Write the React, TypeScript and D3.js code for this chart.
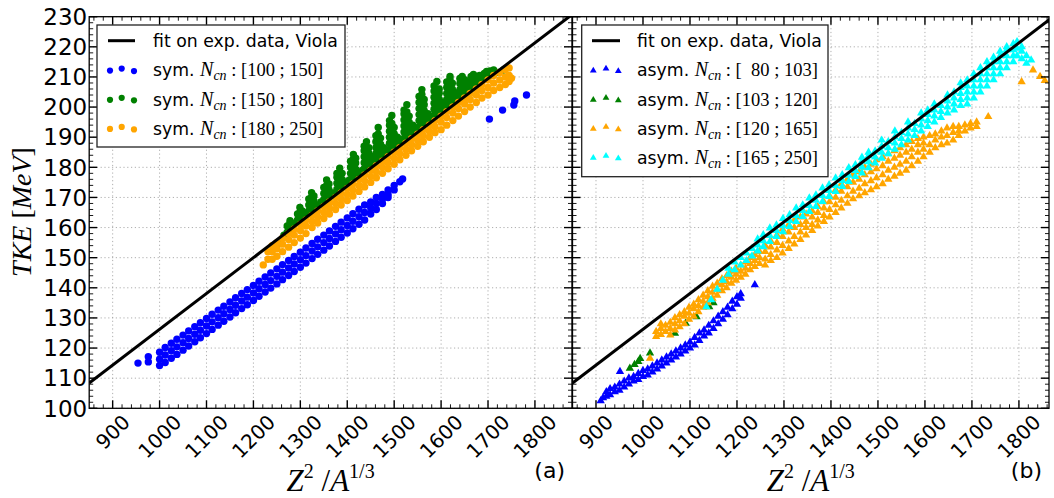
import React from 'react';
import * as d3 from 'd3';

const W = 1054;
const H = 498;

// ---------- ticks / axes ----------
const xTickValues = [900, 1000, 1100, 1200, 1300, 1400, 1500, 1600, 1700, 1800];
const yTickValues = [100, 110, 120, 130, 140, 150, 160, 170, 180, 190, 200, 210, 220, 230];
const yDomain = [100, 230];
const xDomainA = [850, 1879];
const xDomainB = [850, 1864];

// Viola fit line (two end points)
const fitLine = [[850, 108.4], [1900, 233.2]];

// ---------- data rows: [x, y1, y2, ...] ----------
const symBlue = [
  [954, 115], [976, 115.4, 117.1], [1000, 114.2, 116.3, 118.6], [1012, 115.2, 117.7, 120.2],
  [1025, 116.6, 119.1, 121.6], [1037, 117.9, 120.4, 122.9], [1050, 119.3, 121.8, 124.3],
  [1062, 120.7, 123.2, 125.7], [1075, 122.1, 124.6, 127.1], [1087, 123.4, 125.9, 128.4],
  [1100, 124.8, 127.3, 129.8], [1112, 126.2, 128.7, 131.2], [1125, 127.6, 130.1, 132.6],
  [1137, 128.9, 131.4, 133.9], [1150, 130.3, 132.8, 135.3], [1162, 131.7, 134.2, 136.7],
  [1175, 133.1, 135.6, 138.1], [1187, 134.4, 136.9, 139.4], [1200, 135.8, 138.3, 140.8],
  [1212, 137.2, 139.7, 142.2], [1225, 138.6, 141.1, 143.6], [1237, 139.9, 142.4, 144.9],
  [1250, 141.3, 143.8, 146.3], [1262, 142.7, 145.2, 147.7], [1275, 144.1, 146.6, 149.1],
  [1287, 145.4, 147.9, 150.4], [1300, 146.8, 149.3, 151.8], [1312, 148.2, 150.7, 153.2],
  [1325, 149.7, 152.2, 154.7], [1337, 151.1, 153.6, 156.1], [1350, 152.5, 155, 157.5],
  [1362, 153.9, 156.4, 158.9], [1375, 155.4, 157.9, 160.4], [1387, 156.8, 159.3, 161.8],
  [1400, 158.2, 160.7, 163.2], [1412, 159.6, 162.1, 164.6], [1425, 161.1, 163.6, 166.1],
  [1437, 162.5, 165, 167.5], [1450, 164.5, 166.5, 168.5], [1462, 166, 168, 170],
  [1475, 168, 169.5, 171], [1487, 170, 171, 172.5], [1500, 172.5, 174], [1512, 175.2],
  [1518, 176.1], [1703, 196], [1731, 199], [1755, 200.7], [1757, 202], [1782, 204],
];

const symGreen = [
  [1257, 154.8], [1265, 157.5], [1272, 158.5, 160.5], [1278, 159.5, 161.5, 162.3], [1284, 160.5], [1289, 161.5],
  [1294, 162.5, 164.5], [1299, 163.3, 165, 166.7], [1304, 164, 165.5], [1310, 164.8],
  [1318, 165.5, 167.5, 169.5], [1324, 166.2, 168.2, 170.2, 171.6], [1329, 166.8, 168.8, 170.5], [1336, 167.5],
  [1344, 168.5], [1350, 169.3, 171.3, 173.3], [1356, 170, 172, 174, 175.8], [1361, 170.6, 172.6, 174.5], [1368, 171.5],
  [1378, 172.7, 174.7, 176.7, 178], [1384, 173.4, 175.4, 177.4, 179.7], [1389, 174, 176, 178], [1396, 174.8],
  [1403, 175.6], [1407, 176, 178, 180, 182], [1413, 176.8, 178.8, 180.8, 182.8, 184.3], [1418, 177.4, 179.4, 181.4, 183], [1425, 178.2],
  [1432, 179], [1436, 179.5, 181.5, 183.5, 185.5, 187], [1441, 180.1, 182.1, 184.1, 186.1, 188.5], [1446, 180.7, 182.7, 184.7, 186.5], [1453, 181.5, 183.5],
  [1461, 182.5, 184.5, 186.5, 188.5, 190.5], [1466, 183.1, 185.1, 187.1, 189.1, 191.1, 193.2], [1471, 183.7, 185.7, 187.7, 189.7], [1478, 184.5, 186.5],
  [1484, 185.3], [1490, 186, 188, 190, 192, 194, 195.5], [1495, 186.6, 188.6, 190.6, 192.6, 194.6, 197.2], [1500, 187.2, 189.2, 191.2, 193.2], [1507, 188, 190],
  [1515, 189], [1521, 189.7, 191.7, 193.7, 195.7, 197.7, 199], [1527, 190.4, 192.4, 194.4, 196.4, 198.4, 200.8], [1532, 191, 193, 195, 197], [1540, 192, 194],
  [1547, 192.8], [1553, 193.5, 195.5, 197.5, 199.5, 201.5, 203.5], [1559, 194.2, 196.2, 198.2, 200.2, 202.2, 204.2, 205.8], [1564, 194.8, 196.8, 198.8, 200.8, 202.5], [1572, 195.8, 197.8],
  [1579, 196.6], [1585, 197.3, 199.3, 201.3, 203.3, 205.3, 207], [1591, 198, 200, 202, 204, 206, 208.5], [1596, 198.6, 200.6, 202.6, 204.6, 206], [1604, 199.6, 201.6],
  [1612, 200.5, 202.5, 204.5, 206.5, 208.3], [1619, 201.3, 203.3, 205.3, 207.3, 209.3, 210.2], [1624, 201.9, 203.9, 205.9, 207.9], [1631, 202.7, 204.7],
  [1640, 203.8, 205.8, 207.8, 209.5], [1645, 204.4, 206.4, 208.4, 210.2], [1651, 205, 207, 209], [1658, 205.9, 207.9],
  [1664, 206.6, 208.6, 210.2], [1669, 207.2, 209.2, 210.8], [1675, 208, 210], [1682, 208.8, 210.5],
  [1692, 209.6, 211.2], [1697, 210, 211.8], [1704, 210.5, 212], [1712, 211, 212.3], [1722, 211.5], [1733, 212.3],
];

const symOrange = [
  [1221, 147.6], [1231, 149.5, 152], [1240, 149.5, 152, 154], [1250, 150.5, 153, 155],
  [1262, 152, 154.5, 156.5], [1275, 153.5, 156, 158], [1287, 155, 157.5, 159.5],
  [1300, 156.5, 159, 161], [1312, 158, 160.5, 162.5], [1325, 160, 162, 164],
  [1337, 161.5, 163.5, 165.5], [1350, 163, 165, 167], [1362, 164.5, 166.5, 168.5],
  [1375, 166, 168, 170], [1387, 167.5, 169.5, 171.5], [1400, 169, 171, 173],
  [1412, 170.5, 172.5, 174.5], [1425, 172, 174, 176], [1437, 173.5, 175.5, 177.5],
  [1450, 175, 177, 179], [1462, 176.5, 178.5, 180.5], [1475, 178, 180, 182],
  [1487, 179.5, 181.5, 183.5], [1500, 181, 183, 185], [1512, 182.5, 184.5, 186.5],
  [1525, 184, 186, 188], [1537, 185.5, 187.5, 189.5], [1550, 187, 189, 191],
  [1562, 188.5, 190.5, 192.5], [1575, 190, 192, 194], [1587, 191.5, 193.5, 195.5],
  [1600, 192.5, 195, 197], [1612, 194, 196.5, 198.5], [1625, 195.5, 198, 200],
  [1637, 197, 199.5, 201.5], [1650, 198.5, 201, 203], [1662, 200, 202.5, 204.5],
  [1675, 201.5, 204, 206], [1687, 203, 205.5, 207.5], [1700, 204, 206.5, 209],
  [1712, 205.5, 208, 210.5], [1725, 206.5, 209, 211.5], [1737, 207.5, 210, 212.5],
  [1745, 208.5, 210.5, 213], [1750, 209.6],
];

const asymBlue = [
  [910, 102.5], [915, 103.5], [922, 104, 105.5], [930, 104.5, 106.5], [940, 105.5, 107],
  [950, 106, 108], [951, 112.2], [960, 107, 109], [970, 108, 110], [980, 109, 110.5],
  [990, 109.5, 111.5], [1000, 110.5, 112.5], [1010, 111, 113], [1020, 112, 114],
  [1030, 113, 115], [1040, 114, 116], [1050, 115, 117], [1060, 116, 118], [1070, 117, 119],
  [1080, 118, 120], [1090, 119, 121], [1100, 120, 122], [1110, 121, 123.5], [1120, 122.5, 125],
  [1130, 124, 126], [1140, 125, 127.5], [1150, 126.5, 129], [1160, 128, 130.5],
  [1170, 129.5, 132], [1180, 131, 133.5], [1190, 133, 135.5], [1200, 134.5, 137],
  [1208, 136.5, 138], [1238, 141],
];

const asymGreen = [
  [972, 113.3], [982, 114.5], [990, 115.5], [994, 116.5], [1015, 118.3], [1068, 124.9],
  [1091, 128.2], [1114, 130.4], [1141, 133.7], [1150, 135],
];

const asymOrange = [
  [1015, 116.6], [1028, 123.8, 125.5], [1038, 124.5, 126.5, 128], [1048, 125.5, 127.5],
  [1058, 124.3, 126.5, 128.5], [1068, 126, 128, 130], [1078, 127, 129, 131],
  [1088, 128, 130.5, 132], [1098, 129.5, 131.5, 133.5], [1108, 130.5, 133, 134.5],
  [1118, 132, 134, 136], [1128, 133.5, 135.5, 137.5], [1138, 135, 137, 139],
  [1148, 136.5, 138.5, 140.5], [1158, 137.5, 139.5, 141.5], [1168, 139, 141, 143],
  [1178, 140, 142, 144], [1188, 141.5, 143.5, 145.5], [1198, 142.5, 144.5, 146.5],
  [1208, 143.5, 145.5, 147.5], [1218, 144.5, 146.5, 148.5], [1228, 146, 148, 150],
  [1238, 147, 149, 151], [1248, 148, 150, 152],
  [1260, 147.5, 149.5, 152, 154], [1272, 149, 151, 153.5, 155.5], [1285, 150, 152.5, 155, 157.5],
  [1297, 151.5, 154, 157, 159.5], [1310, 153, 155.5, 158.5, 161], [1322, 154.5, 157, 160, 162.5],
  [1335, 156, 158.5, 161, 163.5], [1347, 157.5, 160, 162, 164.5], [1360, 159, 161, 163.5, 165.5],
  [1372, 160.5, 162.5, 165, 167], [1385, 162, 164, 166.5, 168.5], [1397, 163.5, 166, 168.5, 170.5],
  [1410, 165, 167.5, 170, 172.5], [1422, 166.5, 169, 172, 174.5], [1435, 168, 170.5, 173.5, 176],
  [1447, 169.5, 172, 175, 177.5], [1460, 170.5, 173, 176, 178.5], [1472, 171.5, 174.5, 177.5, 180],
  [1485, 172.5, 175.5, 178.5, 181], [1497, 173.5, 176.5, 179.5, 182.5], [1510, 174.5, 177.5, 180.5, 183.5],
  [1522, 176, 179, 182, 184.5], [1535, 177, 180, 183, 185.5], [1547, 178, 181, 184, 186.5],
  [1560, 179, 182, 185, 187.5], [1572, 180.5, 183.5, 186, 188.5], [1585, 182, 185, 187.5, 189.5],
  [1597, 183.5, 186, 188, 190], [1610, 185, 187.5, 190.5], [1622, 186.5, 189, 191],
  [1635, 187.5, 190, 192], [1647, 188, 190.5, 193], [1660, 189, 191.5, 193.5],
  [1672, 190.5, 192, 193.5], [1685, 192, 194], [1697, 193, 194.5], [1710, 193.5, 195],
  [1734.7, 196.8], [1805.7, 208.4], [1830, 212.3], [1845, 210.1], [1855, 208.8],
];

const asymCyan = [
  [1135, 133.7], [1145, 136], [1158, 139.5], [1170, 142.5], [1182, 144.5, 146.5],
  [1195, 146, 148.5], [1208, 147.5, 150], [1220, 149, 151.5], [1232, 150.5, 153],
  [1244, 152.2, 154.2, 156.2], [1256, 153.6, 155.6, 157.6], [1270, 155.3, 157.3, 159.8],
  [1284, 157, 159, 160.8], [1298, 158.6, 160.6, 163], [1312, 160.3, 162.3, 164.2],
  [1326, 162, 164, 166.5], [1340, 163.6, 165.6, 167.5], [1354, 165.3, 167.3, 169.8],
  [1368, 167, 169, 170.8], [1382, 168.6, 170.6, 173.1], [1396, 170.3, 172.3, 174.2],
  [1410, 171.9, 173.9, 176.4], [1424, 173.6, 175.6, 177.5], [1438, 175.3, 177.3, 179.8],
  [1452, 176.9, 178.9, 180.8], [1466, 178.1, 180.1, 182, 183.3], [1480, 179.8, 181.8, 183.8, 185],
  [1494, 181.4, 183.4, 185.4], [1508, 183, 185, 187, 189], [1522, 184.5, 186.5, 188.5],
  [1536, 186, 188, 190, 192], [1550, 187.5, 189.5, 191.5], [1564, 189, 191, 193, 195],
  [1578, 190.5, 192.5, 194.5], [1592, 192, 194, 196, 198], [1606, 193.5, 195.5, 197.5, 199],
  [1620, 195, 197, 199, 201], [1634, 196.5, 198.5, 200.5], [1648, 198, 200, 202, 204],
  [1662, 199, 201, 203, 205], [1676, 200.5, 202.5, 204.5, 206.5, 208], [1690, 201, 203, 205, 207, 209],
  [1704, 203, 205, 207, 209, 211], [1718, 205, 207, 209, 211, 213], [1732, 207, 209, 211, 213, 215],
  [1746, 209, 211, 213, 215, 216.5], [1760, 211, 213, 215, 217, 218.5], [1774, 213, 215, 217, 219, 220],
  [1788, 215, 217, 219, 221], [1796, 217, 219.5, 221.7], [1806, 216, 218.5, 220], [1816, 214.5, 217],
  [1826, 215.6],
];

// ---------- legend labels ----------
const fitLabel = 'fit on exp. data, Viola';
const symRanges = ['[100 ; 150]', '[150 ; 180]', '[180 ; 250]'];
const asymRanges = ['[\u200280 ; 103]', '[103 ; 120]', '[120 ; 165]', '[165 ; 250]'];

const BLUE = '#0000ff';
const GREEN = '#008000';
const ORANGE = '#ffa500';
const CYAN = '#00ffff';

const TOP = 16.7;
const BOTTOM = 408.3;

function toPoints(rows: number[][]) {
  return rows.flatMap((r) => r.slice(1).map((v) => [r[0], v]));
}

const triPath = d3.symbol().type(d3.symbolTriangle).size(30)() as string;
const triLegend = d3.symbol().type(d3.symbolTriangle).size(20)() as string;

type Series = { rows: number[][]; color: string };

type PanelCfg = {
  id: string;
  left: number;
  right: number;
  xDomain: number[];
  series: Series[];
  shape: 'circle' | 'triangle';
  prefix: string;
  ranges: string[];
  showYLabels: boolean;
  legend: { x0: number; x1: number; y0: number; y1: number; lineX0: number; lineX1: number; mk: number[]; tx: number };
  tag: string;
};

function Panel({ cfg }: { cfg: PanelCfg }) {
  const x = d3.scaleLinear().domain(cfg.xDomain).range([cfg.left, cfg.right]);
  const y = d3.scaleLinear().domain(yDomain).range([BOTTOM, TOP]);
  const clipId = 'clip-' + cfg.id;
  const xMinor = d3.range(860, cfg.xDomain[1] + 0.01, 20).filter((v) => v % 100 !== 0);
  const yMinor = d3.range(102, 230, 2).filter((v) => v % 10 !== 0);
  const line = d3.line().x((d: any) => x(d[0])).y((d: any) => y(d[1]));
  const xFs = 20;
  const rows = [40.7, 70, 99.2, 128.3, 157.3];
  const L = cfg.legend;
  const colors = cfg.series.map((s) => s.color);

  return (
    <g>
      <defs>
        <clipPath id={clipId}>
          <rect x={cfg.left} y={TOP} width={cfg.right - cfg.left} height={BOTTOM - TOP} />
        </clipPath>
      </defs>
      <rect x={cfg.left} y={TOP} width={cfg.right - cfg.left} height={BOTTOM - TOP} fill="#fff" />
      {/* grid */}
      <g stroke="#9a9a9a" strokeWidth={0.8} strokeDasharray="1.2,2.6">
        {xTickValues.map((v) => (
          <line key={'gx' + v} x1={x(v)} x2={x(v)} y1={TOP} y2={BOTTOM} />
        ))}
        {yTickValues.map((v) => (
          <line key={'gy' + v} x1={cfg.left} x2={cfg.right} y1={y(v)} y2={y(v)} />
        ))}
      </g>
      {/* data */}
      <g clipPath={`url(#${clipId})`}>
        {cfg.series.map((s, si) =>
          toPoints(s.rows).map((p, i) =>
            cfg.shape === 'circle' ? (
              <circle key={si + '-' + i} cx={x(p[0])} cy={y(p[1])} r={3.7} fill={s.color} />
            ) : (
              <path key={si + '-' + i} d={triPath} transform={`translate(${x(p[0])},${y(p[1])})`} fill={s.color} />
            )
          )
        )}
        <path d={line(fitLine as any) as string} stroke="#000" strokeWidth={3} fill="none" />
      </g>
      {/* ticks */}
      <g stroke="#000">
        {xTickValues.map((v) => (
          <g key={'tx' + v} strokeWidth={1.4}>
            <line x1={x(v)} x2={x(v)} y1={BOTTOM} y2={BOTTOM - 8} />
            <line x1={x(v)} x2={x(v)} y1={TOP} y2={TOP + 8} />
          </g>
        ))}
        {xMinor.map((v) => (
          <g key={'mx' + v} strokeWidth={0.9}>
            <line x1={x(v)} x2={x(v)} y1={BOTTOM} y2={BOTTOM - 4} />
            <line x1={x(v)} x2={x(v)} y1={TOP} y2={TOP + 4} />
          </g>
        ))}
        {yTickValues.map((v) => (
          <g key={'ty' + v} strokeWidth={1.4}>
            <line x1={cfg.left} x2={cfg.left + 8} y1={y(v)} y2={y(v)} />
            <line x1={cfg.right} x2={cfg.right - 8} y1={y(v)} y2={y(v)} />
          </g>
        ))}
        {yMinor.map((v) => (
          <g key={'my' + v} strokeWidth={0.9}>
            <line x1={cfg.left} x2={cfg.left + 4} y1={y(v)} y2={y(v)} />
            <line x1={cfg.right} x2={cfg.right - 4} y1={y(v)} y2={y(v)} />
          </g>
        ))}
      </g>
      <rect x={cfg.left} y={TOP} width={cfg.right - cfg.left} height={BOTTOM - TOP} fill="none" stroke="#000" strokeWidth={1.3} />
      {/* tick labels */}
      {cfg.showYLabels &&
        yTickValues.map((v) => (
          <text key={'ly' + v} x={cfg.left - 2} y={y(v)} dy="0.36em" textAnchor="end" fontFamily="DejaVu Sans" fontSize={23} fill="#000">
            {v}
          </text>
        ))}
      {xTickValues.map((v) => {
        const s = String(v);
        const bh = (s.length * 0.636 + 0.73) * xFs * 0.7071;
        const cy = BOTTOM + 5 + bh / 2;
        return (
          <text key={'lx' + v} transform={`translate(${x(v)},${cy}) rotate(-45)`} dy="0.36em" textAnchor="middle" fontFamily="DejaVu Sans" fontSize={xFs} fill="#000">
            {s}
          </text>
        );
      })}
      {/* x label */}
      <text x={(cfg.left + cfg.right) / 2} y={491} textAnchor="middle" fontFamily="Liberation Serif" fontSize={31} fill="#000">
        <tspan fontStyle="italic">Z</tspan>
        <tspan fontSize={20} dy={-13}>2</tspan>
        <tspan dy={13}>{' /'}</tspan>
        <tspan fontStyle="italic">A</tspan>
        <tspan fontSize={20} dy={-13}>1/3</tspan>
      </text>
      <text x={cfg.right - 7} y={478} textAnchor="end" fontFamily="DejaVu Sans" fontSize={22} fill="#000">
        {cfg.tag}
      </text>
      {/* legend */}
      <rect x={L.x0} y={L.y0} width={L.x1 - L.x0} height={L.y1 - L.y0} fill="#fff" stroke="#222" strokeWidth={1.3} />
      <line x1={L.lineX0} x2={L.lineX1} y1={rows[0]} y2={rows[0]} stroke="#000" strokeWidth={3} />
      <text x={L.tx} y={rows[0] + 6.3} fontFamily="DejaVu Sans" fontSize={17.3} fill="#000">
        {fitLabel}
      </text>
      {cfg.ranges.map((r, i) => {
        const ry = rows[i + 1];
        const offs = [0.6, -1.4, 1.1];
        return (
          <g key={'lg' + i}>
            {L.mk.map((mx, k) =>
              cfg.shape === 'circle' ? (
                <circle key={k} cx={mx} cy={ry + offs[k]} r={3.1} fill={colors[i]} />
              ) : (
                <path key={k} d={triLegend} transform={`translate(${mx},${ry + offs[k]})`} fill={colors[i]} />
              )
            )}
            <text x={L.tx} y={ry + 6.3} fontSize={17.3} fill="#000" style={{ whiteSpace: 'pre' }}>
              <tspan fontFamily="DejaVu Sans">{cfg.prefix + ' '}</tspan>
              <tspan fontFamily="Liberation Serif" fontStyle="italic" fontSize={20}>N</tspan>
              <tspan fontFamily="Liberation Serif" fontStyle="italic" fontSize={14} dy={4}>cn</tspan>
              <tspan fontFamily="Liberation Serif" fontSize={18.5} dy={-4}>{' : ' + r}</tspan>
            </text>
          </g>
        );
      })}
    </g>
  );
}

const panelA: PanelCfg = {
  id: 'a',
  left: 89.2,
  right: 572,
  xDomain: xDomainA,
  series: [
    { rows: symBlue, color: BLUE },
    { rows: symGreen, color: GREEN },
    { rows: symOrange, color: ORANGE },
  ],
  shape: 'circle',
  prefix: 'sym.',
  ranges: symRanges,
  showYLabels: true,
  legend: { x0: 97, x1: 345, y0: 25, y1: 147, lineX0: 108, lineX1: 135, mk: [110, 121.7, 134], tx: 153 },
  tag: '(a)',
};

const panelB: PanelCfg = {
  id: 'b',
  left: 572.5,
  right: 1049,
  xDomain: xDomainB,
  series: [
    { rows: asymBlue, color: BLUE },
    { rows: asymGreen, color: GREEN },
    { rows: asymOrange, color: ORANGE },
    { rows: asymCyan, color: CYAN },
  ],
  shape: 'triangle',
  prefix: 'asym.',
  ranges: asymRanges,
  showYLabels: false,
  legend: { x0: 581.7, x1: 828, y0: 25, y1: 176.7, lineX0: 592, lineX1: 620, mk: [593.3, 606, 618.3], tx: 637 },
  tag: '(b)',
};

export default function App() {
  return (
    <svg width={W} height={H} viewBox={`0 0 ${W} ${H}`} style={{ position: 'absolute', left: 0, top: 0, background: '#fff' }}>
      <rect x={0} y={0} width={W} height={H} fill="#fff" />
      <Panel cfg={panelA} />
      <Panel cfg={panelB} />
      <text transform="translate(31,212) rotate(-90)" textAnchor="middle" fontFamily="Liberation Serif" fontSize={28} fill="#000">
        <tspan fontStyle="italic">TKE</tspan>
        <tspan>{' ['}</tspan>
        <tspan fontStyle="italic">MeV</tspan>
        <tspan>]</tspan>
      </text>
    </svg>
  );
}
